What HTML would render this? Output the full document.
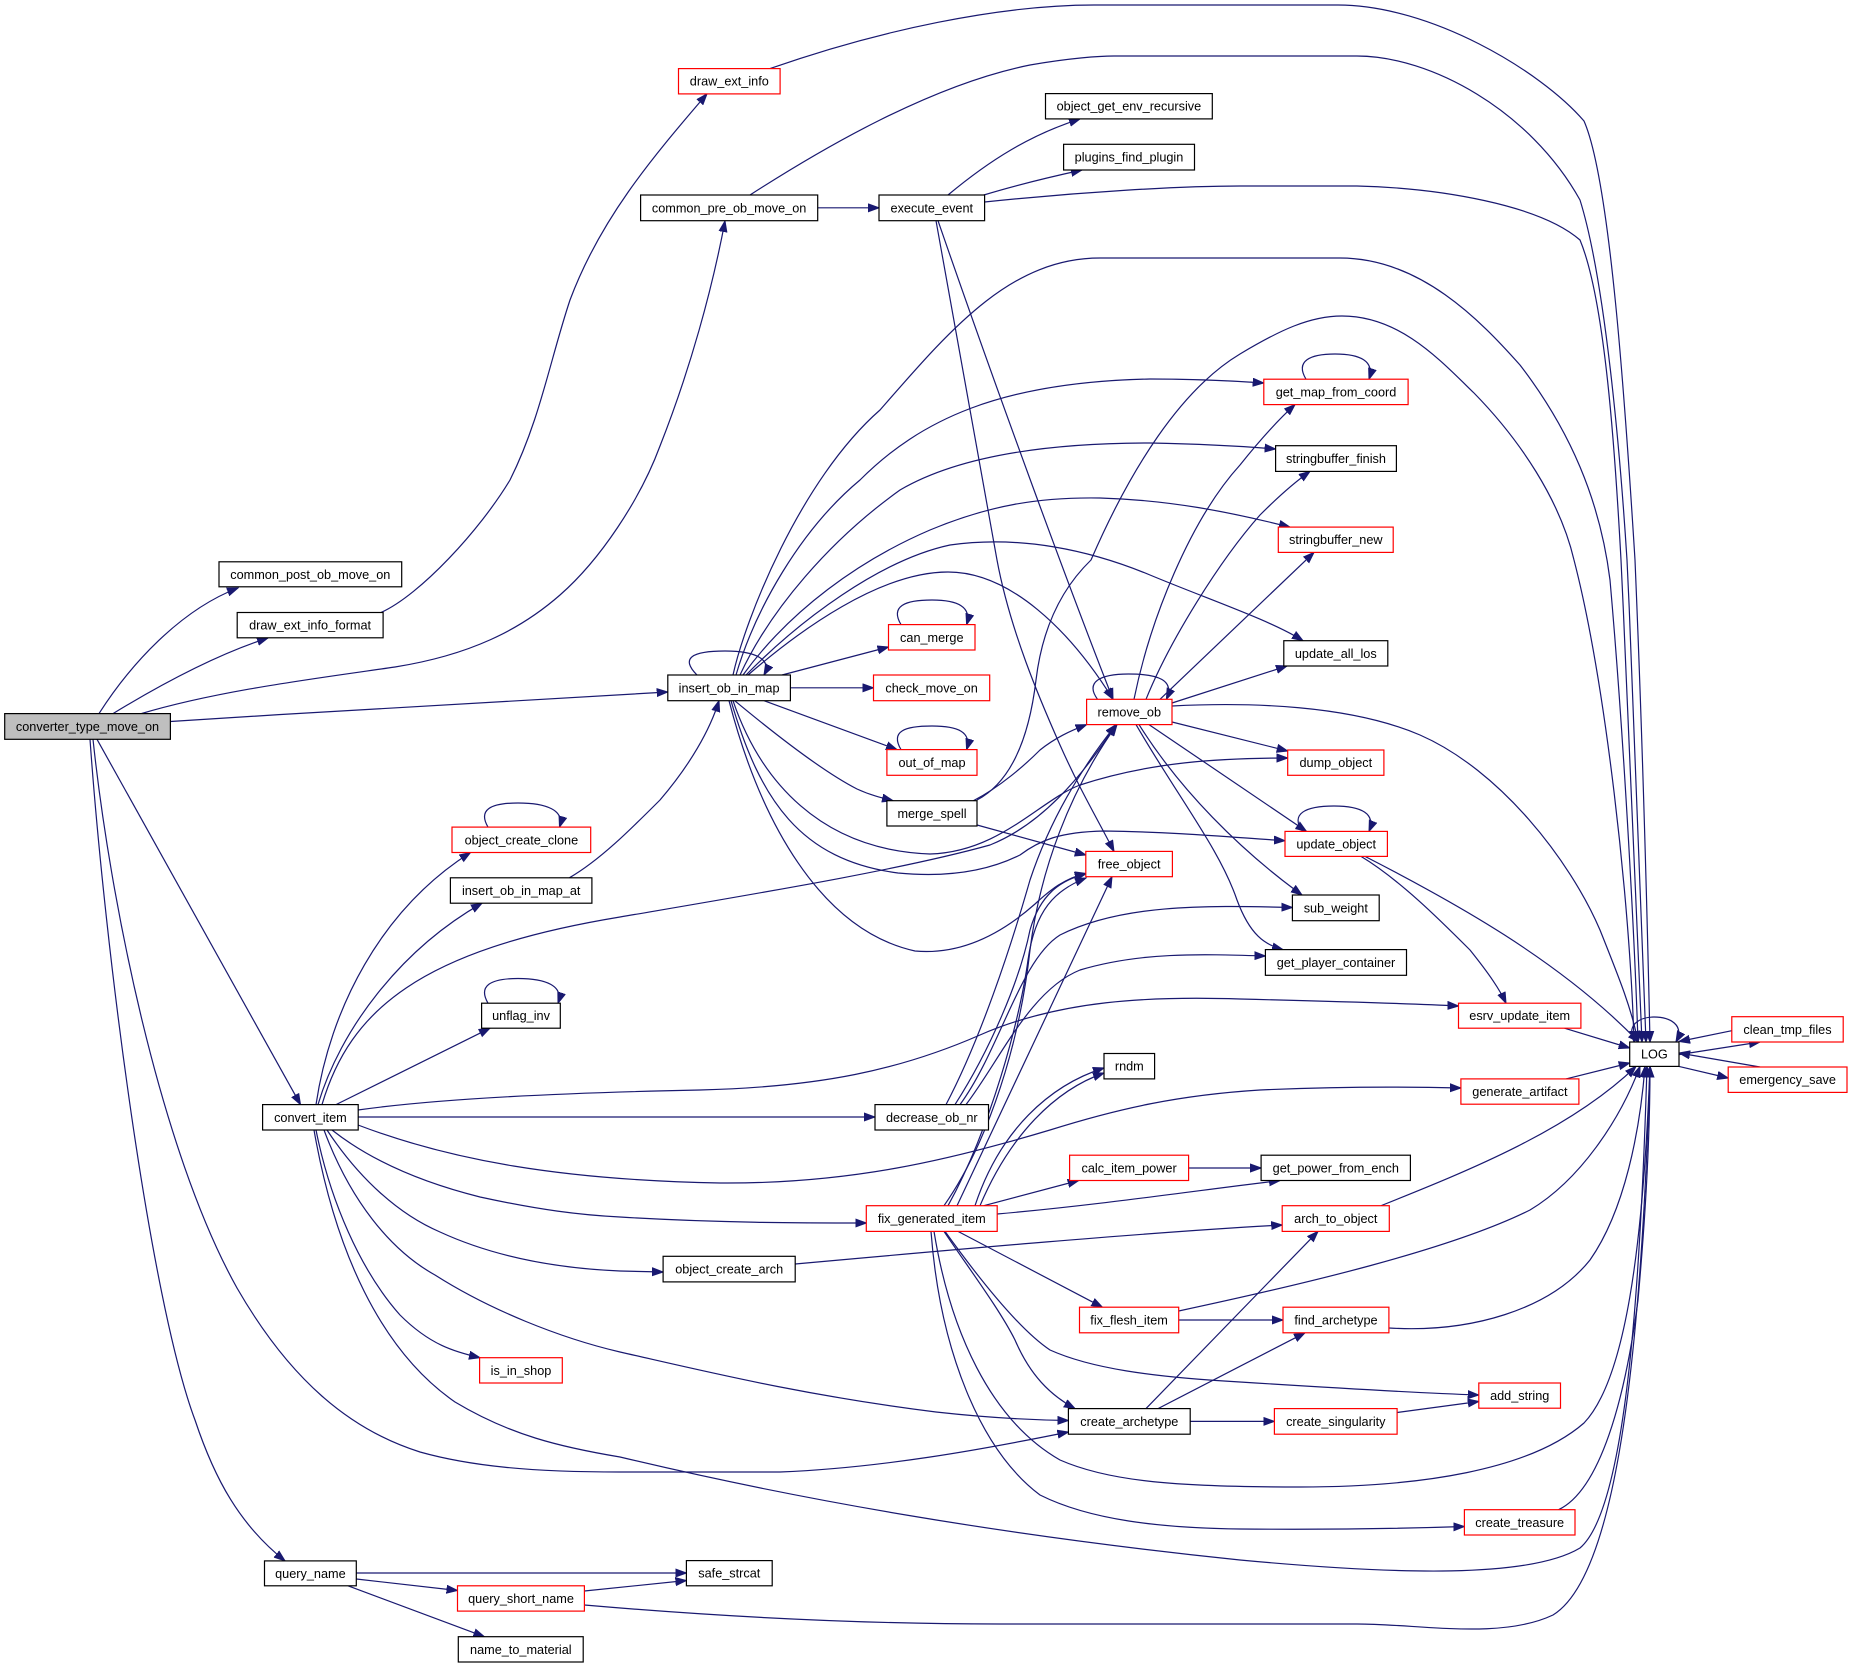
<!DOCTYPE html>
<html>
<head>
<meta charset="utf-8">
<style>
html,body{margin:0;padding:0;background:#fff;}
svg{display:block;}
text{font-family:"Liberation Sans",Arial,Helvetica,sans-serif;font-size:12.7px;fill:#000;text-anchor:middle;}
.e{fill:none;stroke:#191970;stroke-width:1.2;marker-end:url(#ah);}
.n{fill:#fff;stroke:#000;stroke-width:1.2;}
.r{fill:#fff;stroke:#ff0000;stroke-width:1.2;}
.g{fill:#bfbfbf;stroke:#000;stroke-width:1.2;}
</style>
</head>
<body>
<svg width="1853" height="1668" viewBox="0 0 1853 1668" xmlns="http://www.w3.org/2000/svg">
<defs>
<marker id="ah" markerUnits="userSpaceOnUse" markerWidth="12" markerHeight="10" refX="11" refY="4.5" orient="auto" viewBox="0 0 12 10">
<path d="M0,0.5 L11,4.5 L0,8.5 Z" fill="#191970" stroke="#191970" stroke-width="1"/>
</marker>
</defs>
<rect x="0" y="0" width="1853" height="1668" fill="#fff"/>

<!-- EDGES -->
<g>
<path class="e" d="M99,713.6 C130,665 180,610 238,588"/>
<path class="e" d="M113,713.6 C160,685 215,655 268,638"/>
<path class="e" d="M140,714 C220,690 320,678 395,667 C470,655 520,630 560,595 C600,560 640,500 660,446 C690,370 712,290 725,221"/>
<path class="e" d="M170.4,721.5 C350,710 550,698 667.8,692"/>
<path class="e" d="M97,739.3 L300.5,1104.6"/>
<path class="e" d="M93,739.3 C110,900 160,1150 237,1288 C290,1380 350,1430 420,1452 C470,1466 530,1472 620,1472 L780,1472 C880,1468 980,1450 1068.4,1432"/>
<path class="e" d="M90,739.3 C105,950 150,1300 195,1420 C215,1480 240,1525 285,1560.9"/>
<path class="e" d="M381,612.5 C420,595 480,530 510,480 C540,420 550,360 570,300 C600,220 650,160 707,93.9"/>
<path class="e" d="M770,68.6 C880,30 1000,5 1094,5 L1338,5 C1430,5 1540,70 1584,121 C1610,180 1625,400 1635,560 C1643,750 1648,950 1650,1042"/>
<path class="e" d="M817.7,207.8 L879,207.8"/>
<path class="e" d="M750,195 C820,150 930,85 1030,65 C1070,58 1100,56 1114,56 L1357,56 C1430,56 1530,110 1580,200 C1605,280 1620,450 1627,560 C1636,750 1643,950 1646,1042"/>
<path class="e" d="M948,195 C990,160 1030,135 1080,118.9"/>
<path class="e" d="M983.8,195 C1010,187 1050,177 1082,170"/>
<path class="e" d="M984.6,202 C1080,192 1180,186 1240,186 L1357,186 C1440,188 1540,205 1580,240 C1605,300 1615,450 1621,560 C1630,750 1638,950 1642,1042"/>
<path class="e" d="M936,220.7 L997,560 C1010,630 1040,700 1060,745 C1080,790 1098,820 1114,851.4"/>
<path class="e" d="M938,220.7 C1000,400 1070,590 1113,699.3"/>
<path class="e" d="M697,675 C680,658 692,651 725,651 C757,651 772,660 764,675"/>
<path class="e" d="M733,675 C745,620 800,480 880,410 C950,330 1010,258 1100,258 L1340,258 C1420,258 1480,320 1520,365 C1570,430 1600,500 1610,580 C1625,750 1635,950 1638,1042"/>
<path class="e" d="M736,675 C755,610 800,530 860,480 C920,420 1000,382 1150,379 C1200,379 1235,381 1263.8,383"/>
<path class="e" d="M740,675 C770,610 830,540 900,490 C960,455 1050,443 1150,443 C1200,444 1240,446 1275.6,449"/>
<path class="e" d="M743,675 C790,610 860,560 930,530 C990,505 1040,497 1100,498 C1170,500 1230,512 1290,527.1"/>
<path class="e" d="M746,675 C800,620 880,560 950,545 C1020,535 1090,550 1150,575 C1210,600 1270,620 1303,640.7"/>
<path class="e" d="M748,675 C800,630 880,572 948,572 C1010,572 1070,630 1113,699.3"/>
<path class="e" d="M782,675 L888.5,647"/>
<path class="e" d="M790.4,687.8 L873.5,687.8"/>
<path class="e" d="M764,700.7 L897,749.6"/>
<path class="e" d="M734.7,700.7 C770,730 820,770 857,789 C870,795 882,798 893,800.7"/>
<path class="e" d="M733,700.7 C760,780 820,850 930,854 C1000,852 1040,800 1080,785 C1150,762 1220,758 1287.7,758"/>
<path class="e" d="M731,700.7 C760,800 800,860 898,873 C950,878 990,870 1020,855 C1040,840 1060,832 1104,831 C1180,832 1240,838 1285,840.7"/>
<path class="e" d="M729,700.7 C760,820 820,930 915,951 C960,955 1000,935 1035,904 C1050,890 1065,878 1086,873.4"/>
<path class="e" d="M901,624.6 C890,606 905,600 932,600 C958,600 972,607 966.6,624.6"/>
<path class="e" d="M901,749.6 C890,731 905,726 932,726 C958,726 972,732 966.6,749.6"/>
<path class="e" d="M973.5,800.7 C1000,787 1025,765 1040,750 C1055,738 1070,731 1086.6,724.6"/>
<path class="e" d="M977,800 C1015,780 1030,730 1036,680 C1042,630 1060,590 1091,560 C1130,470 1180,390 1240,354 C1280,330 1310,316 1342,316 C1400,316 1440,360 1474,393 C1520,440 1560,500 1574,560 C1605,680 1630,900 1634,1042"/>
<path class="e" d="M977,825 L1085.8,855"/>
<path class="e" d="M1097.5,699.3 C1085,682 1100,674 1128.5,674 C1158,674 1175,680 1166.4,699.3"/>
<path class="e" d="M1172,706 C1250,702 1350,705 1420,735 C1500,770 1570,860 1600,930 C1620,980 1632,1010 1638,1042"/>
<path class="e" d="M1134,699.3 C1150,620 1190,520 1240,465 C1260,440 1278,420 1295,404.6"/>
<path class="e" d="M1146,699.3 C1170,640 1220,560 1260,515 C1280,495 1295,482 1310,471.4"/>
<path class="e" d="M1160,699.3 L1314,552.4"/>
<path class="e" d="M1172,703 L1287,666"/>
<path class="e" d="M1172,722 L1287.7,751"/>
<path class="e" d="M1149,724.6 L1306.5,831.4"/>
<path class="e" d="M1139,724.6 C1180,790 1240,850 1302,895"/>
<path class="e" d="M1136,724.6 C1180,800 1220,850 1237,900 C1250,935 1265,945 1283,949.6"/>
<path class="e" d="M1306,379.2 C1295,361 1310,354 1335,354 C1360,354 1375,361 1369,379.2"/>
<path class="e" d="M1302.5,831.4 C1290,814 1305,806 1334,806 C1362,806 1376,814 1369,831.4"/>
<path class="e" d="M1365,856.4 C1450,900 1560,960 1638.7,1042"/>
<path class="e" d="M1361,856.4 C1400,880 1440,920 1470,950 C1490,975 1500,990 1506,1003.2"/>
<path class="e" d="M1564.5,1028.2 L1629.7,1048"/>
<path class="e" d="M1566,1078.9 L1629.7,1063"/>
<path class="e" d="M1635,1042 C1625,1025 1640,1017 1654,1017 C1670,1017 1685,1025 1676,1042"/>
<path class="e" d="M1679,1054.6 L1760,1042"/>
<path class="e" d="M1731.8,1030.7 L1679,1041.5"/>
<path class="e" d="M1679,1066.4 L1728.2,1078"/>
<path class="e" d="M1760,1067 L1679,1053"/>
<path class="e" d="M316,1130 C330,1200 360,1270 400,1315 C430,1345 455,1352 480,1357.7"/>
<path class="e" d="M316,1104.6 C330,1010 380,910 470.5,852.5"/>
<path class="e" d="M318,1104.6 C340,1030 400,950 482,903.2"/>
<path class="e" d="M336,1104.6 L490,1028.2"/>
<path class="e" d="M322,1104.6 C350,1010 420,950 620,917 C760,893 900,870 990,845 C1040,825 1080,780 1116,724.6"/>
<path class="e" d="M358,1110 C450,1097 600,1092 700,1090 C820,1087 900,1070 980,1035 C1060,1000 1150,996 1240,999 C1320,1001 1400,1003 1458.5,1006"/>
<path class="e" d="M358.2,1117 L875,1117"/>
<path class="e" d="M358,1125 C450,1160 560,1180 720,1183 C850,1184 950,1160 1050,1130 C1120,1108 1180,1095 1260,1090 C1350,1086 1420,1087 1460.9,1088"/>
<path class="e" d="M332,1130 C370,1160 420,1182 480,1197 C540,1210 580,1215 620,1217 C720,1223 800,1223 866.3,1223"/>
<path class="e" d="M327,1130 C360,1180 400,1215 440,1232 C490,1255 550,1268 620,1271 L663.1,1272"/>
<path class="e" d="M324,1130 C350,1200 390,1250 435,1275 C490,1310 560,1338 620,1352 C700,1370 800,1395 936,1412 C990,1418 1030,1420 1068.4,1420.5"/>
<path class="e" d="M314,1130 C335,1250 380,1350 455,1402 C510,1435 560,1447 620,1457 C800,1500 1000,1535 1240,1560 C1400,1575 1530,1578 1580,1548 C1625,1510 1640,1300 1647,1066.4"/>
<path class="e" d="M569.4,877.8 C600,860 630,830 660,800 C690,765 710,730 719,700.7"/>
<path class="e" d="M488,827.1 C478,810 490,803 518,803 C546,803 565,810 559.5,827.1"/>
<path class="e" d="M488,1003.2 C478,986 490,978.5 518,978.5 C546,978.5 564,986 558,1003.2"/>
<path class="e" d="M946,1104.6 C980,1040 1010,950 1030,880 C1050,820 1080,770 1116,724.6"/>
<path class="e" d="M955,1104.6 C990,1050 1020,980 1030,930 C1040,895 1060,880 1085.8,874"/>
<path class="e" d="M960,1104.6 C1000,1050 1020,960 1060,935 C1120,905 1200,905 1292.4,907.5"/>
<path class="e" d="M966,1104.6 C1000,1060 1030,990 1080,970 C1140,952 1200,954 1265.4,956"/>
<path class="e" d="M944,1205.7 C990,1140 1020,1040 1030,950 C1040,870 1070,790 1117,724.6"/>
<path class="e" d="M948,1205.7 C990,1130 1020,1020 1028,960 C1035,910 1055,890 1086,878"/>
<path class="e" d="M957,1205.7 L1112,876.7"/>
<path class="e" d="M975,1205.7 C1000,1130 1050,1085 1104,1068"/>
<path class="e" d="M980,1205.7 C1010,1135 1055,1090 1104,1073"/>
<path class="e" d="M983.8,1205.7 L1078.7,1180.5"/>
<path class="e" d="M997.2,1214 C1100,1205 1200,1190 1280,1180.5"/>
<path class="e" d="M1188.6,1168 L1261.1,1168"/>
<path class="e" d="M958,1231.4 L1102.4,1307.2"/>
<path class="e" d="M944,1231.4 C970,1270 1000,1310 1015,1340 C1030,1375 1050,1395 1075,1408.6"/>
<path class="e" d="M945,1231.4 C980,1280 1020,1330 1050,1350 C1090,1368 1150,1377 1240,1382 C1350,1389 1420,1393 1478.8,1395"/>
<path class="e" d="M934,1231.4 C950,1330 990,1420 1060,1460 C1110,1482 1180,1487 1300,1487 C1420,1487 1530,1470 1584,1423 C1625,1380 1643,1250 1650,1066.4"/>
<path class="e" d="M931,1231.4 C940,1350 980,1450 1040,1495 C1090,1520 1160,1528 1240,1529 C1350,1530 1420,1528 1464.4,1526.5"/>
<path class="e" d="M795.2,1264 C950,1250 1150,1232 1282.2,1225"/>
<path class="e" d="M1381,1205.7 C1470,1170 1570,1130 1636,1066.4"/>
<path class="e" d="M1178.7,1311 C1300,1285 1450,1250 1530,1210 C1580,1180 1620,1120 1640,1066.4"/>
<path class="e" d="M1178.7,1320 L1283,1320"/>
<path class="e" d="M1388.9,1328 C1470,1333 1550,1310 1590,1260 C1625,1210 1640,1130 1645,1066.4"/>
<path class="e" d="M1146,1408.6 L1318,1231.4"/>
<path class="e" d="M1158,1408.6 L1305,1332.8"/>
<path class="e" d="M1190.2,1421.4 L1274.4,1421.4"/>
<path class="e" d="M1397.1,1412.5 L1478.8,1401.5"/>
<path class="e" d="M1558.6,1509.7 C1600,1490 1625,1400 1638,1300 C1647,1200 1650,1120 1650,1066.4"/>
<path class="e" d="M356.3,1573 L686.4,1573"/>
<path class="e" d="M356.3,1579 L457.5,1590.5"/>
<path class="e" d="M348,1585.8 L484.4,1636.7"/>
<path class="e" d="M584.4,1591 L686.4,1580.5"/>
<path class="e" d="M584.4,1605 C700,1615 850,1624 1000,1624 L1357,1624 C1420,1624 1500,1640 1553,1615 C1610,1580 1640,1400 1650,1066.4"/>
</g>

<!-- NODES -->
<g>
<rect class="g" x="4.7" y="713.6" width="165.7" height="25.7"/><text x="87.5" y="731">converter_type_move_on</text>
<rect class="n" x="219" y="561.8" width="182.7" height="25"/><text x="310.3" y="578.8">common_post_ob_move_on</text>
<rect class="n" x="237.2" y="612.5" width="145.9" height="25.3"/><text x="310.1" y="629.6">draw_ext_info_format</text>
<rect class="r" x="678.5" y="68.6" width="101.6" height="25.3"/><text x="729.3" y="85.7">draw_ext_info</text>
<rect class="n" x="640.6" y="195" width="177.1" height="25.7"/><text x="729.1" y="212.3">common_pre_ob_move_on</text>
<rect class="n" x="879" y="195" width="105.6" height="25.7"/><text x="931.8" y="212.3">execute_event</text>
<rect class="n" x="1045.5" y="93.6" width="166.8" height="25.3"/><text x="1128.9" y="110.7">object_get_env_recursive</text>
<rect class="n" x="1063.6" y="144.3" width="130.9" height="25.7"/><text x="1129" y="161.6">plugins_find_plugin</text>
<rect class="r" x="1263.8" y="379.2" width="144.3" height="25.4"/><text x="1336" y="396.4">get_map_from_coord</text>
<rect class="n" x="1275.6" y="445.7" width="120.8" height="25.7"/><text x="1336" y="463">stringbuffer_finish</text>
<rect class="r" x="1278.3" y="527.1" width="114.9" height="25.3"/><text x="1335.8" y="544.2">stringbuffer_new</text>
<rect class="n" x="1283.8" y="640.7" width="104" height="25.3"/><text x="1335.8" y="657.8">update_all_los</text>
<rect class="r" x="1287.7" y="750" width="96.2" height="25.3"/><text x="1335.8" y="767.1">dump_object</text>
<rect class="r" x="1285" y="831.4" width="102.4" height="25"/><text x="1336.2" y="848.4">update_object</text>
<rect class="n" x="1292.4" y="895" width="86.8" height="25.7"/><text x="1335.8" y="912.3">sub_weight</text>
<rect class="n" x="1265.4" y="949.6" width="141.1" height="25.7"/><text x="1336" y="966.9">get_player_container</text>
<rect class="r" x="1458.5" y="1003.2" width="122.4" height="25"/><text x="1519.7" y="1020.2">esrv_update_item</text>
<rect class="n" x="1629.7" y="1042" width="49.3" height="24.4"/><text x="1654.4" y="1058.7">LOG</text>
<rect class="r" x="1731.8" y="1016.7" width="111.4" height="25.3"/><text x="1787.5" y="1033.8">clean_tmp_files</text>
<rect class="r" x="1728.2" y="1067" width="118.8" height="25.4"/><text x="1787.6" y="1084.2">emergency_save</text>
<rect class="r" x="1460.9" y="1078.9" width="118" height="25.3"/><text x="1519.9" y="1096">generate_artifact</text>
<rect class="n" x="667.8" y="675" width="122.6" height="25.7"/><text x="729.1" y="692.3">insert_ob_in_map</text>
<rect class="r" x="888.5" y="624.6" width="86.5" height="25.4"/><text x="931.8" y="641.8">can_merge</text>
<rect class="r" x="873.5" y="675" width="116.2" height="25.7"/><text x="931.6" y="692.3">check_move_on</text>
<rect class="r" x="886.9" y="749.6" width="90.1" height="25.7"/><text x="932" y="766.9">out_of_map</text>
<rect class="n" x="886.9" y="800.7" width="90.1" height="25.3"/><text x="932" y="817.8">merge_spell</text>
<rect class="r" x="1086.6" y="699.3" width="85.4" height="25.3"/><text x="1129.3" y="716.4">remove_ob</text>
<rect class="r" x="1085.8" y="851.4" width="86.6" height="25.3"/><text x="1129.1" y="868.5">free_object</text>
<rect class="n" x="1104" y="1053.5" width="50.6" height="25.4"/><text x="1129.3" y="1070.7">rndm</text>
<rect class="n" x="875" y="1104.6" width="113.5" height="25.4"/><text x="931.8" y="1121.8">decrease_ob_nr</text>
<rect class="r" x="452" y="827.1" width="138.7" height="25.4"/><text x="521.4" y="844.3">object_create_clone</text>
<rect class="n" x="450.4" y="877.8" width="141.5" height="25.4"/><text x="521.2" y="895">insert_ob_in_map_at</text>
<rect class="n" x="481.6" y="1003.2" width="78.7" height="25"/><text x="521" y="1020.2">unflag_inv</text>
<rect class="n" x="262.6" y="1104.6" width="95.6" height="25.4"/><text x="310.4" y="1121.8">convert_item</text>
<rect class="r" x="479.6" y="1357.7" width="82.7" height="25.3"/><text x="521" y="1374.8">is_in_shop</text>
<rect class="n" x="264.5" y="1560.9" width="91.8" height="24.9"/><text x="310.4" y="1577.8">query_name</text>
<rect class="r" x="457.5" y="1585.8" width="126.9" height="25.3"/><text x="521" y="1602.9">query_short_name</text>
<rect class="n" x="458.3" y="1636.7" width="124.9" height="25.3"/><text x="520.8" y="1653.8">name_to_material</text>
<rect class="r" x="1069.6" y="1155.2" width="119" height="25.3"/><text x="1129.1" y="1172.3">calc_item_power</text>
<rect class="r" x="866.3" y="1205.7" width="130.9" height="25.7"/><text x="931.8" y="1223">fix_generated_item</text>
<rect class="n" x="663.1" y="1256.3" width="132.1" height="25.6"/><text x="729.2" y="1273.6">object_create_arch</text>
<rect class="r" x="1079.5" y="1307.2" width="99.2" height="25.6"/><text x="1129.1" y="1324.5">fix_flesh_item</text>
<rect class="n" x="1068.4" y="1408.6" width="121.8" height="25.6"/><text x="1129.3" y="1425.9">create_archetype</text>
<rect class="n" x="686.4" y="1560.6" width="85.8" height="25.2"/><text x="729.3" y="1577.7">safe_strcat</text>
<rect class="n" x="1261.1" y="1155.2" width="149.3" height="25.3"/><text x="1335.8" y="1172.3">get_power_from_ench</text>
<rect class="r" x="1282.2" y="1205.7" width="107.1" height="25.7"/><text x="1335.8" y="1223">arch_to_object</text>
<rect class="r" x="1283" y="1307.2" width="105.9" height="25.6"/><text x="1336" y="1324.5">find_archetype</text>
<rect class="r" x="1478.8" y="1383" width="81.7" height="25.2"/><text x="1519.7" y="1400.1">add_string</text>
<rect class="r" x="1274.4" y="1408.6" width="122.7" height="25.6"/><text x="1335.8" y="1425.9">create_singularity</text>
<rect class="r" x="1464.4" y="1509.7" width="110.6" height="25.3"/><text x="1519.7" y="1526.8">create_treasure</text>
</g>
</svg>
</body>
</html>
